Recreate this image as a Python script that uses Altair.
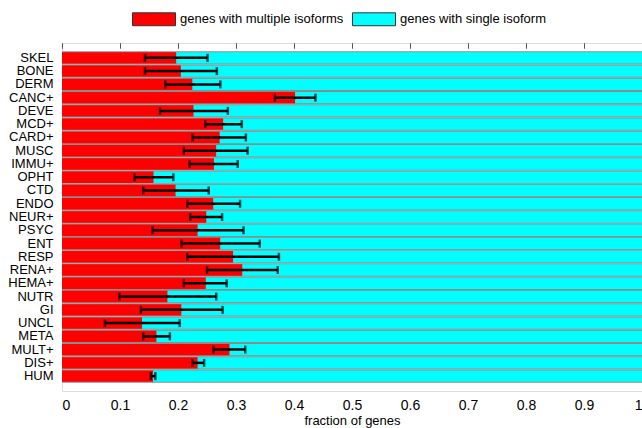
import altair as alt
import pandas as pd

categories = ["SKEL", "BONE", "DERM", "CANC+", "DEVE", "MCD+", "CARD+", "MUSC", "IMMU+",
              "OPHT", "CTD", "ENDO", "NEUR+", "PSYC", "ENT", "RESP", "RENA+", "HEMA+",
              "NUTR", "GI", "UNCL", "META", "MULT+", "DIS+", "HUM"]
frac_multi = [0.197, 0.205, 0.225, 0.402, 0.227, 0.278, 0.272, 0.266, 0.262,
              0.158, 0.196, 0.261, 0.249, 0.234, 0.273, 0.295, 0.311, 0.248,
              0.182, 0.206, 0.138, 0.163, 0.289, 0.234, 0.157]
err_lo = [0.143, 0.143, 0.178, 0.367, 0.169, 0.247, 0.225, 0.210, 0.220,
          0.125, 0.140, 0.216, 0.221, 0.156, 0.206, 0.216, 0.250, 0.210,
          0.099, 0.136, 0.074, 0.140, 0.261, 0.225, 0.153]
err_hi = [0.251, 0.267, 0.273, 0.437, 0.286, 0.310, 0.317, 0.320, 0.303,
          0.192, 0.253, 0.307, 0.276, 0.313, 0.341, 0.374, 0.372, 0.284,
          0.266, 0.277, 0.203, 0.186, 0.316, 0.245, 0.161]
series = ["genes with multiple isoforms", "genes with single isoform"]
colors = ["#ff0000", "#00ffff"]

rows = []
for c, v in zip(categories, frac_multi):
    rows.append({"cat": c, "series": series[0], "start": 0.0, "end": v})
    rows.append({"cat": c, "series": series[1], "start": v, "end": 1.0})
bars_df = pd.DataFrame(rows)
bg_df = pd.DataFrame({"cat": categories, "start": [0.0] * len(categories), "end": [1.0] * len(categories)})
err_df = pd.DataFrame({"cat": categories, "lo": err_lo, "hi": err_hi})

xscale = alt.Scale(domain=[0, 1], nice=False, zero=False)
yscale = alt.Scale(domain=categories, paddingInner=0, paddingOuter=0.62)
tick_vals = [round(i * 0.1, 1) for i in range(11)]

yaxis = alt.Axis(title=None, ticks=False, domain=False, labelFontSize=13,
                 labelFont="Liberation Sans", labelColor="black", labelPadding=9)
y_enc = alt.Y("cat:N", sort=categories, scale=yscale, axis=yaxis)

bg = alt.Chart(bg_df).mark_bar(color="#8c8c8c").encode(
    x=alt.X("start:Q", scale=xscale,
            axis=alt.Axis(title="fraction of genes", values=tick_vals, format="~g", ticks=False,
                          domain=False, grid=False, labelFontSize=14, labelFont="Liberation Sans",
                          labelColor="black", labelPadding=7, titleFontSize=13,
                          titleFont="Liberation Sans", titleFontWeight="normal",
                          titleColor="black", titlePadding=2)),
    x2="end:Q",
    y=y_enc,
)

bars = alt.Chart(bars_df).mark_bar(height=alt.RelativeBandSize(0.86)).encode(
    x=alt.X("start:Q", scale=xscale,
            axis=alt.Axis(title=None, values=tick_vals, labels=False, domain=False, grid=False,
                          tickSize=5, tickColor="#555555", offset=-5)),
    x2="end:Q",
    y=y_enc,
    color=alt.Color("series:N", scale=alt.Scale(domain=series, range=colors),
                    legend=alt.Legend(title=None, orient="none", legendX=70, legendY=-46,
                                      direction="horizontal",
                                      symbolType="M-1,-0.3H1V0.3H-1Z", symbolSize=1849,
                                      symbolStrokeColor="#333333", symbolStrokeWidth=1,
                                      symbolOpacity=1, labelLimit=400,
                                      labelFontSize=13, labelFont="Liberation Sans",
                                      labelColor="black", labelOffset=4, columnPadding=6,
                                      padding=0)),
)

rules = alt.Chart(err_df).mark_rule(color="black", strokeWidth=2.5).encode(
    x=alt.X("lo:Q", scale=xscale,
            axis=alt.Axis(title=None, orient="top", values=tick_vals, labels=False, domain=False,
                          grid=False, tickSize=5, tickColor="#555555", offset=-5)),
    x2="hi:Q",
    y=y_enc,
)
cap_lo = alt.Chart(err_df).mark_tick(color="black", thickness=2.5, size=8).encode(
    x=alt.X("lo:Q", scale=xscale, axis=None), y=y_enc)
cap_hi = alt.Chart(err_df).mark_tick(color="black", thickness=2.5, size=8).encode(
    x=alt.X("hi:Q", scale=xscale, axis=None), y=y_enc)

chart = alt.layer(bg, bars, rules, cap_lo, cap_hi).resolve_axis(x="independent").properties(
    width=580, height=348,
    autosize=alt.AutoSizeParams(type="none"),
    padding={"left": 62, "top": 43, "right": 0, "bottom": 37},
).configure_view(stroke="#808080", strokeWidth=1).configure(background="white")

chart.save("out.html", embed_options={"renderer": "svg", "actions": False})
